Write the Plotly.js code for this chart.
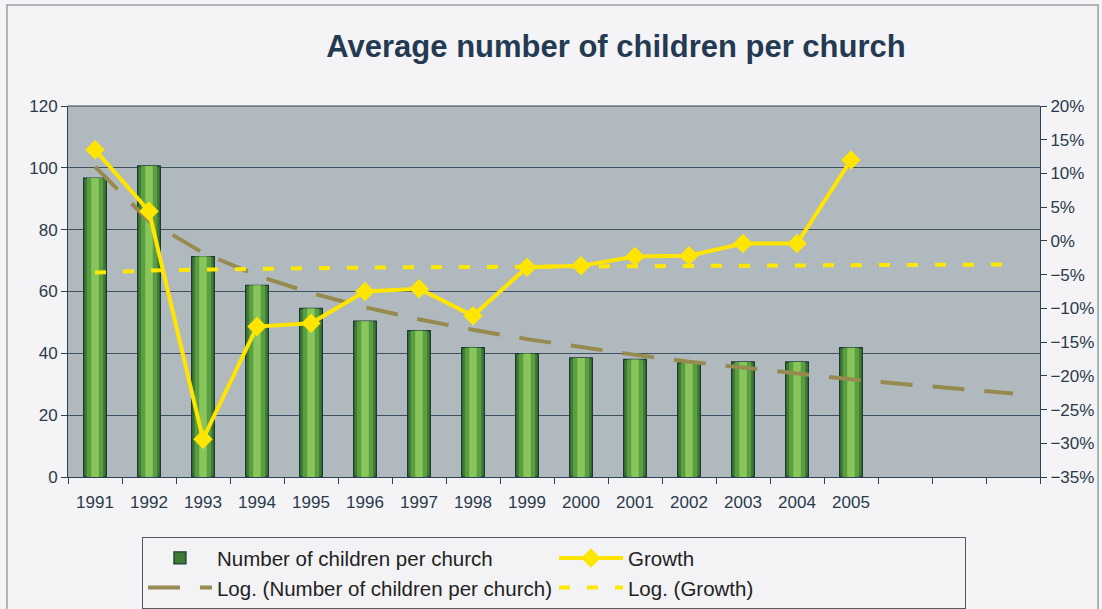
<!DOCTYPE html>
<html>
<head>
<meta charset="utf-8">
<script src="https://cdn.plot.ly/plotly-3.0.1.min.js"></script>
<style>html,body{margin:0;padding:0;background:#f4f4f6;}#chart{width:1102px;height:609px;}</style>
</head>
<body>
<div id="chart"></div>
<script>
// Data
var years = [1991,1992,1993,1994,1995,1996,1997,1998,1999,2000,2001,2002,2003,2004,2005];
var yearLabels = ['1991','1992','1993','1994','1995','1996','1997','1998','1999','2000','2001','2002','2003','2004','2005'];
var childrenPerChurch = [96.7,100.6,71.3,62.0,54.5,50.4,47.3,41.8,39.9,38.5,38.0,36.9,37.2,37.2,41.8];
var growthPct = [13.5,4.4,-29.4,-12.7,-12.2,-7.5,-7.1,-11.1,-3.9,-3.7,-2.3,-2.2,-0.4,-0.4,12.0];
// Trendline (log) values, extended 3 periods
var trendYears = [1991,1992,1993,1994,1995,1996,1997,1998,1999,2000,2001,2002,2003,2004,2005,2006,2007,2008];
var logChildren = [100.4,82.8,72.5,65.2,59.5,54.9,51.0,47.6,44.6,42.0,39.5,37.3,35.3,33.4,31.6,30.0,28.5,27.0];
var logGrowth = [-4.7,-4.4,-4.25,-4.1,-4.0,-3.95,-3.9,-3.85,-3.8,-3.75,-3.7,-3.67,-3.64,-3.6,-3.58,-3.55,-3.53,-3.5];

var axisColor = '#2d4256';
var textColor = '#2b3a4a';
var fontFam = '"Liberation Sans", Arial, sans-serif';

var barOuter = {
  type: 'bar', x: years, y: childrenPerChurch, width: 0.42,
  name: 'Number of children per church',
  marker: {color: '#3d7a34', line: {color: '#1e3a34', width: 1.3}},
  legendrank: 1, hoverinfo: 'y'
};
var barMid = {
  type: 'bar', x: years, y: childrenPerChurch, width: 0.30,
  marker: {color: '#5a9e42', line: {width: 0}}, showlegend: false, hoverinfo: 'skip'
};
var barInner = {
  type: 'bar', x: years, y: childrenPerChurch, width: 0.14,
  marker: {color: '#88c55b', line: {width: 0}}, showlegend: false, hoverinfo: 'skip'
};
var trendChildren = {
  type: 'scatter', mode: 'lines', x: trendYears, y: logChildren,
  name: 'Log. (Number of children per church)',
  line: {color: '#978a4e', width: 4, dash: '32px,20px'},
  legendrank: 3
};
var trendGrowth = {
  type: 'scatter', mode: 'lines', x: trendYears, y: logGrowth, yaxis: 'y2',
  name: 'Log. (Growth)',
  line: {color: '#ffe800', width: 4, dash: '11px,17px'},
  legendrank: 4
};
var growth = {
  type: 'scatter', mode: 'lines+markers', x: years, y: growthPct, yaxis: 'y2',
  name: 'Growth',
  line: {color: '#ffe500', width: 4},
  marker: {symbol: 'diamond', size: 15, color: '#ffe500'},
  legendrank: 2
};

var layout = {
  width: 1102, height: 609,
  paper_bgcolor: '#f4f4f6',
  plot_bgcolor: '#b0b9be',
  margin: {l: 68, r: 62, t: 106, b: 132, autoexpand: false},
  barmode: 'overlay',
  font: {family: fontFam, size: 17, color: textColor},
  title: {
    text: '<b>Average number of children per church</b>',
    font: {family: fontFam, size: 31, color: '#243a52'},
    x: 0.559, xanchor: 'center', y: 0.924, yanchor: 'middle'
  },
  xaxis: {
    range: [1990.5, 2008.5],
    tickmode: 'array', tickvals: years, ticktext: yearLabels,
    ticks: '', showgrid: false, zeroline: false,
    showline: true, linecolor: axisColor, linewidth: 1,
    ticklabelstandoff: 10,
    tickfont: {size: 17, color: textColor},
    minor: {tick0: 1990.5, dtick: 1, ticks: 'outside', ticklen: 6, tickcolor: axisColor, showgrid: false}
  },
  yaxis: {
    range: [0, 120], dtick: 20, tick0: 0,
    showgrid: true, gridcolor: '#3e5264', gridwidth: 1,
    zeroline: false, showline: true, linecolor: axisColor, linewidth: 1,
    ticks: 'outside', ticklen: 6, tickcolor: axisColor,
    tickfont: {size: 17, color: textColor}
  },
  yaxis2: {
    overlaying: 'y', side: 'right',
    range: [-35, 20], dtick: 5, tick0: -35, ticksuffix: '%',
    showgrid: false, zeroline: false, showline: true, linecolor: axisColor, linewidth: 1,
    ticks: 'outside', ticklen: 6, tickcolor: axisColor,
    tickfont: {size: 17, color: textColor}
  },
  showlegend: true,
  legend: {
    orientation: 'h', x: 0.0761, xanchor: 'left', y: -0.162, yanchor: 'top',
    entrywidth: 332, itemwidth: 64,
    bgcolor: '#f3f3f5', bordercolor: '#555a60', borderwidth: 1,
    font: {size: 20.5, color: '#222'}, traceorder: 'normal'
  },
  shapes: [
    {type: 'line', xref: 'paper', yref: 'paper', x0: 0, x1: 1, y0: 1, y1: 1,
     line: {color: axisColor, width: 1}},
    {type: 'rect', xref: 'paper', yref: 'paper', x0: -0.0628, x1: 1.0597, y0: -0.37, y1: 1.272,
     line: {color: '#9a9ea4', width: 1.5}, fillcolor: 'rgba(0,0,0,0)', layer: 'below'}
  ]
};

Plotly.newPlot('chart', [barOuter, barMid, barInner, trendChildren, trendGrowth, growth], layout, {displayModeBar: false, staticPlot: true});
</script>
</body>
</html>
